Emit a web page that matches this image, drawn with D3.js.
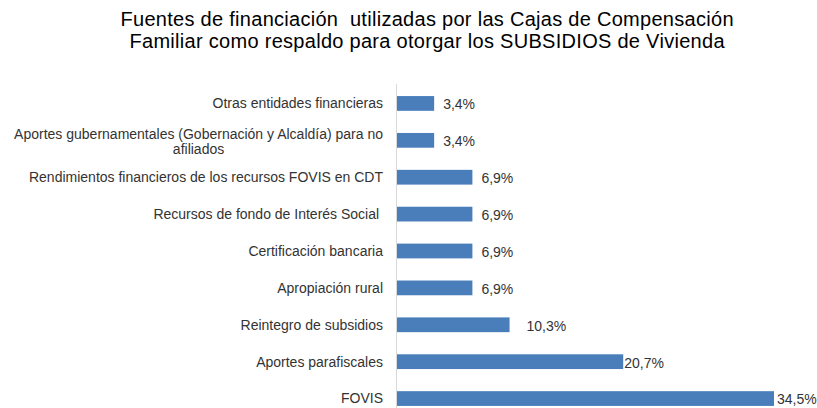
<!DOCTYPE html>
<html>
<head>
<meta charset="utf-8">
<script src="https://cdn.jsdelivr.net/npm/d3@7"></script>
<style>
  html, body { margin: 0; padding: 0; background: #fff; }
  svg { display: block; font-family: "Liberation Sans", Arial, sans-serif; }
</style>
</head>
<body>
<svg id="chart" width="817" height="408"></svg>
<script>
// Fuentes de financiación (porcentaje de Cajas), de arriba hacia abajo
const categories = [
  "Otras entidades financieras",
  "Aportes gubernamentales (Gobernación y Alcaldía) para no\nafiliados",
  "Rendimientos financieros de los recursos FOVIS en CDT",
  "Recursos de fondo de Interés Social ",
  "Certificación bancaria",
  "Apropiación rural",
  "Reintegro de subsidios",
  "Aportes parafiscales",
  "FOVIS"
];
const values = [3.4, 3.4, 6.9, 6.9, 6.9, 6.9, 10.3, 20.7, 34.5];
const titleLines = [
  "Fuentes de financiación  utilizadas por las Cajas de Compensación",
  "Familiar como respaldo para otorgar los SUBSIDIOS de Vivienda"
];

const fmt = v => d3.format(".1f")(v).replace(".", ",") + "%";

const svg = d3.select("#chart");

// Título en dos líneas
const title = svg.append("text")
  .attr("text-anchor", "middle")
  .attr("font-size", 20)
  .attr("fill", "#000")
  .style("white-space", "pre");
const titleWidths = [613, 595];
titleLines.forEach((line, i) => {
  title.append("tspan")
    .attr("x", 427)
    .attr("y", 25.5 + i * 22)
    .attr("textLength", titleWidths[i])
    .attr("lengthAdjust", "spacing")
    .text(line);
});

// Escalas
const x = d3.scaleLinear().domain([0, 34.5]).range([397, 774]);
const y = d3.scaleBand().domain(categories).range([85, 417])
  .paddingInner(0.6).paddingOuter(0.3);

// Eje vertical de categorías
const axis = svg.append("g")
  .attr("transform", "translate(396.5,0)")
  .call(d3.axisLeft(y).tickSize(0).tickFormat(""));
axis.select(".domain").attr("stroke", "#d9d9d9").attr("stroke-width", 1)
  .attr("d", "M0,84V408");

// Barras
svg.append("g").selectAll("rect")
  .data(values)
  .join("rect")
  .attr("x", x(0))
  .attr("y", (d, i) => y(categories[i]))
  .attr("width", d => x(d) - x(0))
  .attr("height", y.bandwidth())
  .attr("fill", "#4a7ebb");

// Etiquetas de categoría (alineadas a la derecha, multilínea centrada)
const labelG = svg.append("g").attr("font-size", 14).attr("fill", "#333");
categories.forEach((c, i) => {
  const lines = c.split("\n");
  const cy = y(c) + y.bandwidth() / 2;
  const lh = 15;
  const y0 = cy - (lines.length - 1) * lh / 2 + (lines.length > 1 ? 1.5 : 0);
  const first = labelG.append("text")
    .attr("x", 383).attr("y", y0).attr("dy", "0.35em")
    .attr("text-anchor", "end")
    .style("white-space", "pre")
    .text(lines[0]);
  if (lines.length > 1) {
    const w = first.node().getComputedTextLength();
    lines.slice(1).forEach((l, j) => {
      labelG.append("text")
        .attr("x", 383 - w / 2).attr("y", y0 + (j + 1) * lh).attr("dy", "0.35em")
        .attr("text-anchor", "middle")
        .text(l);
    });
  }
});

// Etiquetas de valor
const valueGap = [9, 9, 9, 9, 9, 9, 17, 1, 3];
svg.append("g").attr("font-size", 14).attr("fill", "#333")
  .selectAll("text")
  .data(values)
  .join("text")
  .attr("x", (d, i) => x(d) + valueGap[i])
  .attr("y", (d, i) => y(categories[i]) + y.bandwidth() / 2 + 1)
  .attr("dy", "0.35em")
  .text(d => fmt(d));
</script>
</body>
</html>
